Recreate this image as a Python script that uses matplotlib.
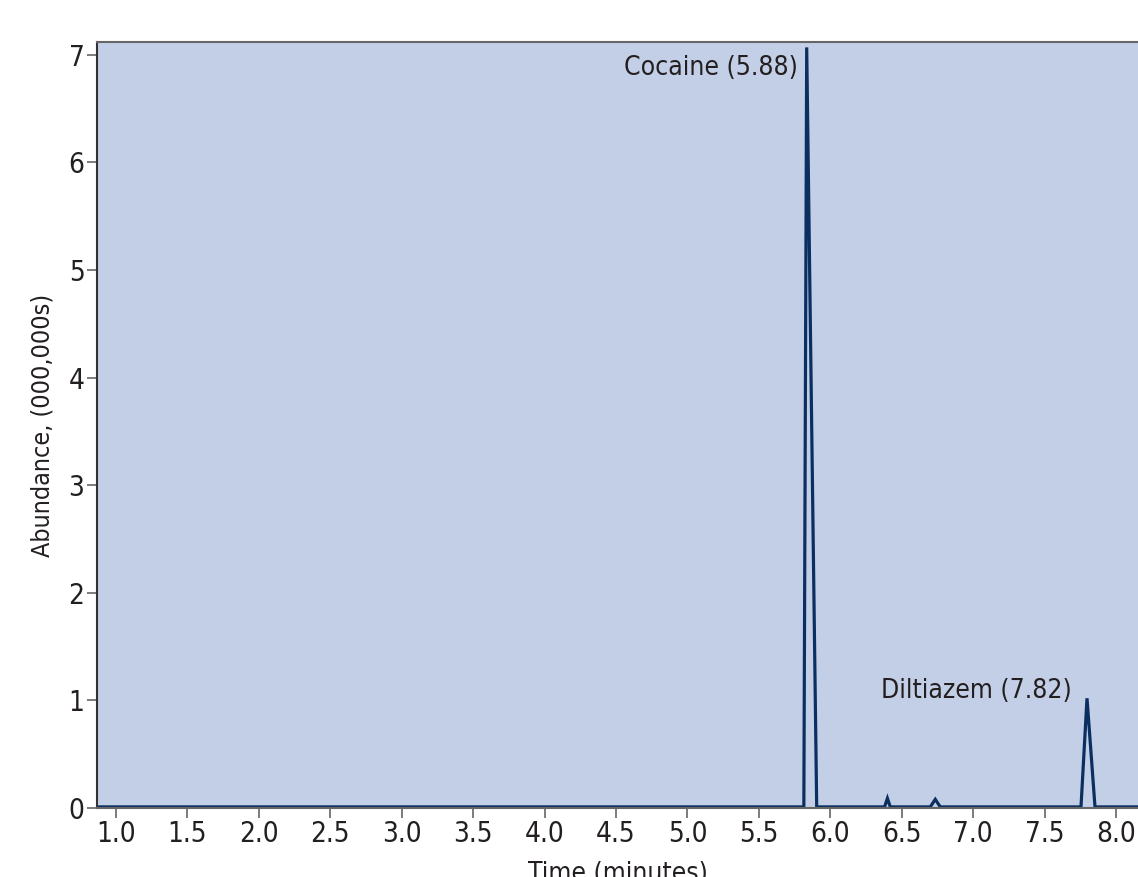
import matplotlib.pyplot as plt
from matplotlib import font_manager

# Chromatogram trace (minutes, abundance in millions)
czas = [0.85, 5.815, 5.835, 5.905, 6.38, 6.40, 6.42, 6.70, 6.735, 6.77,
        7.755, 7.797, 7.853, 8.2]
abundancja = [0.01, 0.01, 7.07, 0.01, 0.01, 0.09, 0.01, 0.01, 0.08, 0.01,
              0.01, 1.02, 0.01, 0.01]

x_ticks = [1.0, 1.5, 2.0, 2.5, 3.0, 3.5, 4.0, 4.5, 5.0, 5.5, 6.0, 6.5, 7.0, 7.5, 8.0]
y_ticks = [0, 1, 2, 3, 4, 5, 6, 7]

etykiety = ["Cocaine (5.88)", "Diltiazem (7.82)"]
etykiety_x = [5.77, 7.69]
etykiety_y = [6.88, 1.09]

# szukamy waskiej czcionki (oryginal uzywa kroju condensed)
dostepne = font_manager.fontManager.ttflist
waskie = [f.name for f in dostepne
          if 'Narrow' in f.name or 'Condensed' in f.name or str(f.stretch) in ('condensed', 'semi-condensed', '75', '87')]
if waskie:
    plt.rcParams['font.family'] = [waskie[0], 'DejaVu Sans']
else:
    plt.rcParams['font.family'] = ['DejaVu Sans']
plt.rcParams['font.stretch'] = 'condensed'

fig = plt.figure(figsize=(11.38, 8.77), dpi=100)
ax = fig.add_axes([0.0852, 0.0787, 0.9148, 0.8734])
ax.set_facecolor('#c3cfe7')

ax.plot(czas, abundancja, color='#0b2f60', linewidth=2.3, solid_joinstyle='miter')

for tekst, tx, ty in zip(etykiety, etykiety_x, etykiety_y):
    ax.text(tx, ty, tekst, ha='right', va='center', fontsize=19, color='#231f20')

ax.set_xlim(0.867, 8.154)
ax.set_ylim(0, 7.12)
ax.set_xticks(x_ticks)
ax.set_xticklabels([f"{t:.1f}" for t in x_ticks])
ax.set_yticks(y_ticks)

ax.tick_params(axis='both', direction='out', length=7, width=1.2, color='#666666',
               labelsize=20, labelcolor='#231f20', pad=2)
ax.spines['top'].set_color('#666666')
ax.spines['top'].set_linewidth(1.5)
ax.spines['left'].set_color('#333333')
ax.spines['left'].set_linewidth(1.5)
ax.spines['bottom'].set_color('#666666')
ax.spines['bottom'].set_linewidth(1.5)
ax.spines['right'].set_visible(False)

ax.set_xlabel('Time (minutes)', fontsize=19, color='#231f20', labelpad=9)
ax.set_ylabel('Abundance, (000,000s)', fontsize=18, color='#231f20', labelpad=10)

plt.savefig('out.png', dpi=100)
plt.close()
